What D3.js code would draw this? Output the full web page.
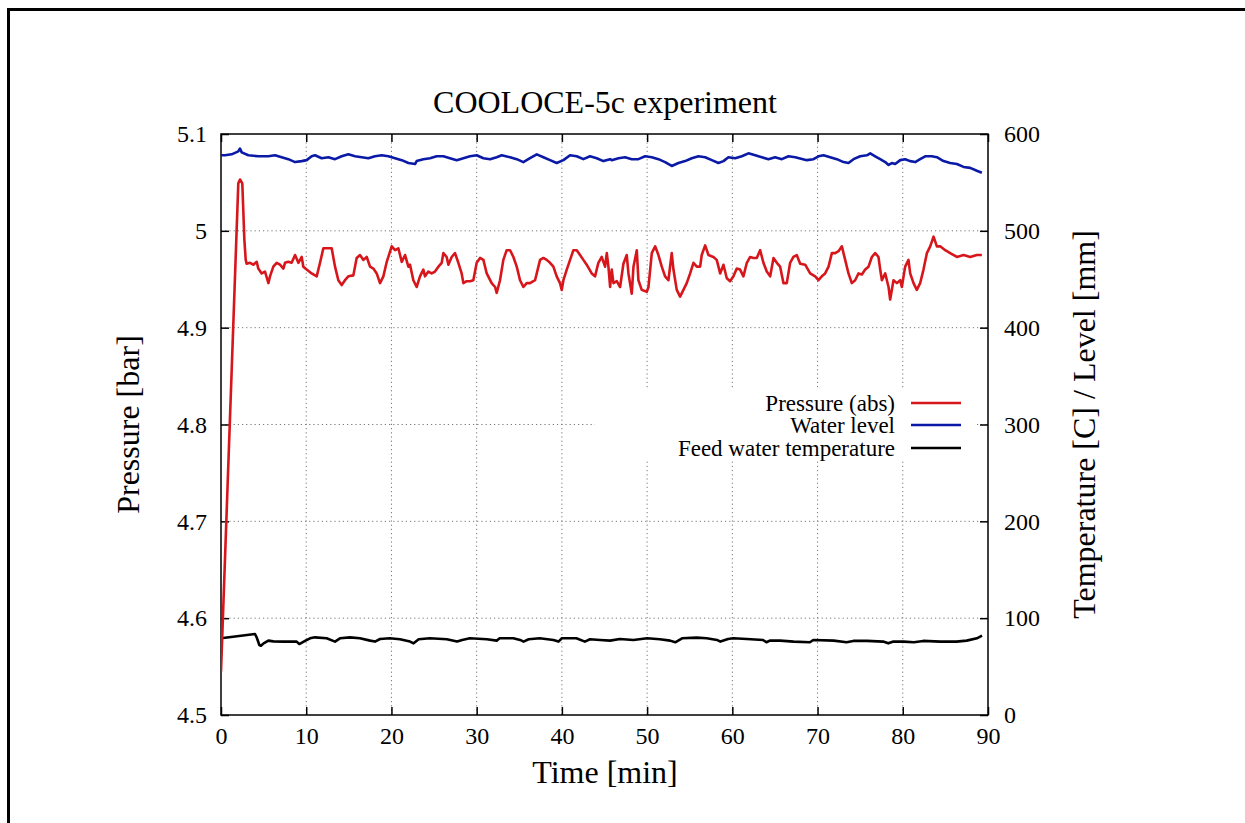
<!DOCTYPE html>
<html>
<head>
<meta charset="utf-8">
<script src="https://cdn.jsdelivr.net/npm/d3@7"></script>
<style>
  html, body { margin: 0; padding: 0; background: #fff; overflow: hidden; }
  svg { display: block; }
  text { font-family: "Liberation Serif", "DejaVu Serif", serif; fill: #000; }
</style>
</head>
<body>
<svg id="chart" width="1245" height="823"></svg>
<script>
// ---------------- data ----------------
const chartTitle = "COOLOCE-5c experiment";
const xLabel = "Time [min]";
const yLeftLabel = "Pressure [bar]";
const yRightLabel = "Temperature [C] / Level [mm]";
const seriesNames = ["Pressure (abs)", "Water level", "Feed water temperature"];

const xTicks = [0, 10, 20, 30, 40, 50, 60, 70, 80, 90];
const yLeftTicks = [4.5, 4.6, 4.7, 4.8, 4.9, 5.0, 5.1];
const yLeftTickLabels = ["4.5", "4.6", "4.7", "4.8", "4.9", "5", "5.1"];
const yRightTicks = [0, 100, 200, 300, 400, 500, 600];

// Pressure (abs) [bar]: time [min], value
const pressureTime = [
  0, 2.03, 2.23, 2.50, 2.74, 2.90, 3.01, 3.40, 3.79, 4.19, 4.38, 4.77, 5.16, 5.56, 5.75, 6.14, 6.53, 6.92, 7.32, 7.51,
  7.90, 8.29, 8.69, 9.08, 9.47, 9.66, 10.05, 10.64, 11.23, 11.62, 12.01, 12.99, 13.38, 13.77, 14.16, 14.55, 14.94, 15.53,
  15.92, 16.31, 16.71, 17.10, 17.49, 17.88, 18.27, 18.66, 19.05, 19.45, 20.03, 20.42, 20.81, 21.21, 21.60, 21.99,
  22.18, 22.57, 22.96, 23.35, 23.74, 23.94, 24.33, 24.72, 25.11, 25.51, 25.90, 26.09, 26.48, 26.68, 27.07, 27.46, 27.85,
  28.24, 28.44, 28.83, 29.22, 29.61, 30.00, 30.40, 30.79, 31.18, 31.76, 32.16, 32.35, 32.74, 33.13, 33.52, 33.92, 34.31,
  34.70, 35.09, 35.48, 35.87, 36.26, 36.85, 37.44, 37.83, 38.22, 38.61, 39.00, 39.39, 39.78, 39.98, 40.18, 40.57, 40.96,
  41.35, 41.74, 42.13, 42.52, 42.91, 43.50, 43.89, 44.28, 44.67, 45.07, 45.27, 45.46, 45.66, 45.85, 46.05, 46.44, 46.83,
  47.22, 47.61, 47.81, 48.20, 48.40, 48.79, 48.98, 49.37, 49.96, 50.16, 50.55, 50.94, 51.33, 51.72, 52.11, 52.50, 52.89,
  53.09, 53.48, 53.87, 54.26, 54.65, 55.05, 55.44, 55.83, 56.22, 56.41, 56.81, 57.20, 57.78, 58.17, 58.57, 58.96, 59.35,
  59.74, 60.13, 60.52, 60.91, 61.30, 61.70, 62.09, 62.48, 62.87, 63.26, 63.65, 64.04, 64.44, 64.83, 65.22, 65.61, 66.00,
  66.39, 66.78, 67.17, 67.56, 67.96, 68.55, 69.13, 69.72, 70.11, 70.50, 70.89, 71.29, 71.68, 72.07, 72.46, 72.85, 73.24,
  73.63, 74.02, 74.41, 74.81, 75.20, 75.59, 75.98, 76.37, 76.76, 77.15, 77.35, 77.55, 77.94, 78.33, 78.52, 78.91, 79.31,
  79.70, 79.89, 80.28, 80.67, 80.87, 81.26, 81.65, 82.04, 82.43, 82.83, 83.22, 83.61, 84.00, 84.39, 84.98, 85.56, 86.35,
  87.13, 87.91, 88.69, 89.28
];
const pressureValue = [
  4.545, 5.049, 5.053, 5.049, 4.991, 4.970, 4.966, 4.967, 4.965, 4.968, 4.961, 4.956, 4.958, 4.946, 4.953, 4.963, 4.967, 4.965, 4.961, 4.967,
  4.968, 4.967, 4.975, 4.967, 4.973, 4.963, 4.960, 4.956, 4.953, 4.967, 4.982, 4.982, 4.963, 4.949, 4.944, 4.949, 4.953, 4.954,
  4.972, 4.975, 4.970, 4.973, 4.963, 4.961, 4.956, 4.946, 4.953, 4.968, 4.984, 4.980, 4.982, 4.968, 4.975, 4.963,
  4.965, 4.949, 4.942, 4.953, 4.960, 4.953, 4.958, 4.956, 4.958, 4.963, 4.967, 4.977, 4.973, 4.965, 4.973, 4.977, 4.967,
  4.956, 4.946, 4.948, 4.948, 4.949, 4.967, 4.972, 4.970, 4.956, 4.946, 4.942, 4.936, 4.949, 4.970, 4.980, 4.980, 4.973,
  4.963, 4.949, 4.942, 4.946, 4.946, 4.949, 4.970, 4.972, 4.970, 4.967, 4.963, 4.953, 4.946, 4.939, 4.949, 4.960, 4.970,
  4.980, 4.980, 4.975, 4.970, 4.965, 4.956, 4.953, 4.967, 4.973, 4.963, 4.977, 4.963, 4.942, 4.960, 4.946, 4.948, 4.942,
  4.966, 4.975, 4.956, 4.935, 4.963, 4.980, 4.949, 4.939, 4.937, 4.942, 4.977, 4.984, 4.975, 4.963, 4.953, 4.949, 4.977,
  4.960, 4.939, 4.932, 4.939, 4.946, 4.956, 4.967, 4.963, 4.963, 4.975, 4.985, 4.975, 4.973, 4.970, 4.956, 4.965, 4.951,
  4.948, 4.953, 4.961, 4.960, 4.953, 4.967, 4.973, 4.972, 4.972, 4.980, 4.967, 4.958, 4.953, 4.972, 4.967, 4.963, 4.946,
  4.946, 4.967, 4.973, 4.975, 4.966, 4.965, 4.956, 4.953, 4.949, 4.953, 4.956, 4.963, 4.977, 4.977, 4.979, 4.984, 4.970,
  4.956, 4.946, 4.949, 4.956, 4.955, 4.960, 4.963, 4.973, 4.977, 4.973, 4.960, 4.949, 4.956, 4.942, 4.929, 4.949, 4.946,
  4.949, 4.942, 4.963, 4.970, 4.956, 4.946, 4.939, 4.946, 4.960, 4.977, 4.984, 4.994, 4.984, 4.984, 4.980, 4.977, 4.973,
  4.975, 4.973, 4.975, 4.975
];

// Water level [mm]: time [min], value
const levelTime = [
  0, 0.47, 1.25, 2.03, 2.23, 2.43, 3.21, 4.38, 5.56, 6.34, 7.12, 7.90, 8.69, 9.47, 10.05, 10.64, 11.03, 11.81, 12.60,
  13.38, 14.16, 14.94, 15.73, 16.51, 17.29, 18.07, 18.86, 19.64, 20.42, 21.21, 21.99, 22.77,
  22.96, 23.74, 24.52, 25.31, 26.09, 26.87, 27.66, 28.44, 29.22, 30.00, 30.79, 31.57, 32.35, 32.94, 33.92, 34.70, 35.48,
  36.26, 37.05, 37.83, 38.61, 39.39, 40.18, 40.96, 41.74, 42.52, 43.30, 44.09, 44.87, 45.65,
  45.85, 46.64, 47.42, 48.20, 48.98, 49.77, 50.55, 51.33, 52.11, 52.89, 53.68, 54.46, 55.24, 56.03, 56.81, 57.59, 58.37,
  58.96, 59.54, 60.33, 61.11, 61.89, 62.68, 63.46, 64.24, 65.02, 65.81, 66.59, 67.38,
  68.74, 69.52, 70.11, 70.70, 71.48, 72.26, 73.05, 73.63, 74.22, 75.00, 75.79, 76.18, 76.76, 77.35, 77.94, 78.33, 78.72,
  79.11, 79.70, 80.28, 80.87, 81.46, 82.04, 82.63, 83.41, 84.00, 84.78, 85.56, 86.35, 87.13, 87.91, 88.69, 89.28
];
const levelValue = [
  578, 578, 579, 582, 585, 581, 578, 577, 577, 578, 576, 574, 571, 572, 573, 577, 578, 575, 576, 574, 577, 579,
  577, 576, 575, 577, 578, 577, 575, 573, 570, 569,
  572, 574, 575, 577, 577, 575, 573, 575, 577, 578, 575, 574, 576, 578, 576, 574, 571, 575, 579, 576, 573, 570, 573,
  578, 577, 574, 577, 575, 572, 574,
  573, 575, 576, 574, 574, 577, 576, 574, 571, 567, 570, 572, 575, 577, 576, 573, 570, 572, 576, 575, 577, 580, 578,
  576, 574, 576, 574, 577, 576,
  573, 574, 577, 578, 576, 574, 571, 570, 574, 577, 578, 580, 577, 574, 571, 568, 570, 569, 573, 574, 572, 571, 574,
  577, 577, 576, 572, 570, 569, 566, 565, 562, 560
];

// Feed water temperature [C]: time [min], value
const tempTime = [
  0, 3.99, 4.19, 4.50, 4.69, 5.00, 5.56, 6.14, 7.30, 8.88, 9.19, 9.86, 10.45, 11.03, 12.40, 13.38, 13.96, 15.14, 16.30,
  17.50, 18.07, 18.66, 19.80, 21.00, 22.18, 22.60, 23.20, 24.50, 26.50, 27.70, 28.30, 29.20, 31.20, 32.35, 32.70, 34.30,
  35.10, 35.50, 36.10, 37.40, 39.00, 39.60, 40.00, 41.70, 42.70, 43.30, 44.48, 45.65, 46.80, 48.40, 50.00, 51.50, 52.70,
  53.30, 54.10, 55.80, 57.00, 58.20, 58.60, 59.50, 60.10, 61.70, 63.60, 64.00, 64.40, 65.60, 67.20, 69.10, 69.50, 71.90,
  73.40, 74.20, 75.80, 77.70, 78.30, 78.90, 80.10, 81.30, 82.40, 84.40, 86.30, 87.50, 88.70, 89.30
];
const tempValue = [
  79.2, 83.7, 80.0, 72.3, 71.5, 74.0, 76.8, 76.0, 75.8, 75.8, 73.3, 76.5, 79.2, 80.2, 79.2, 75.8, 79.2, 80.2, 79.2,
  76.8, 75.8, 78.5, 79.2, 78.2, 75.8, 74.0, 78.2, 79.2, 78.2, 75.8, 77.5, 79.2, 78.2, 76.8, 79.2, 79.2,
  77.5, 75.8, 78.2, 79.2, 77.5, 75.8, 79.2, 79.2, 75.8, 78.2, 77.5, 76.8, 78.5, 77.5, 79.2, 78.2, 76.8,
  75.1, 79.2, 79.9, 79.2, 77.5, 75.8, 78.5, 79.2, 78.5, 77.5, 75.1, 76.8, 76.8, 75.8, 75.1, 77.5, 76.8,
  75.1, 76.5, 76.5, 75.8, 74.0, 75.8, 75.8, 75.1, 76.5, 75.8, 75.8, 76.8, 79.2, 82.0
];

// ---------------- chart ----------------
const W = 1245, H = 823;
const plot = { left: 221, right: 988, top: 134, bottom: 715 };
const svg = d3.select("#chart");

const x = d3.scaleLinear().domain([0, 90]).range([plot.left, plot.right]);
const yL = d3.scaleLinear().domain([4.5, 5.1]).range([plot.bottom, plot.top]);
const yR = d3.scaleLinear().domain([0, 600]).range([plot.bottom, plot.top]);

// page border (left and top edges only)
svg.append("line").attr("x1", 8.5).attr("x2", 8.5).attr("y1", 8).attr("y2", H)
  .attr("stroke", "#000").attr("stroke-width", 3);
svg.append("line").attr("x1", 7).attr("x2", W).attr("y1", 9.5).attr("y2", 9.5)
  .attr("stroke", "#000").attr("stroke-width", 3);

// grid
const grid = svg.append("g").attr("stroke", "#777").attr("stroke-width", 1).attr("stroke-dasharray", "1.2,3");
grid.selectAll("line.gx").data(xTicks.slice(1, -1)).join("line")
  .attr("x1", d => x(d)).attr("x2", d => x(d)).attr("y1", plot.top).attr("y2", plot.bottom);
grid.selectAll("line.gy").data(yLeftTicks.slice(1, -1)).join("line")
  .attr("x1", plot.left).attr("x2", plot.right).attr("y1", d => yL(d)).attr("y2", d => yL(d));

// legend background (opaque key box)
svg.append("rect").attr("x", 595).attr("y", 389).attr("width", 380).attr("height", 72).attr("fill", "#fff");

// axes with inward ticks
const tickFont = 24;
const axL = svg.append("g").attr("transform", `translate(${plot.left},0)`)
  .call(d3.axisLeft(yL).tickValues(yLeftTicks).tickFormat((d, i) => yLeftTickLabels[i]).tickSizeInner(-8).tickSizeOuter(0).tickPadding(14));
const axR = svg.append("g").attr("transform", `translate(${plot.right},0)`)
  .call(d3.axisRight(yR).tickValues(yRightTicks).tickFormat(d3.format("d")).tickSizeInner(-8).tickSizeOuter(0).tickPadding(16));
const axB = svg.append("g").attr("transform", `translate(0,${plot.bottom})`)
  .call(d3.axisBottom(x).tickValues(xTicks).tickFormat(d3.format("d")).tickSizeInner(-8).tickSizeOuter(0).tickPadding(12));
const axT = svg.append("g").attr("transform", `translate(0,${plot.top})`)
  .call(d3.axisTop(x).tickValues(xTicks).tickFormat("").tickSizeInner(-8).tickSizeOuter(0));
[axL, axR, axB, axT].forEach(a => {
  a.select(".domain").remove();
  a.selectAll(".tick line").attr("stroke", "#000").attr("stroke-width", 1.5);
  a.selectAll(".tick text").style("font-family", '"Liberation Serif", serif').style("font-size", tickFont + "px").attr("fill", "#000");
});

// frame
svg.append("rect").attr("x", plot.left).attr("y", plot.top)
  .attr("width", plot.right - plot.left).attr("height", plot.bottom - plot.top)
  .attr("fill", "none").attr("stroke", "#000").attr("stroke-width", 1.5);

// data lines
svg.append("clipPath").attr("id", "clip").append("rect")
  .attr("x", plot.left).attr("y", plot.top).attr("width", plot.right - plot.left).attr("height", plot.bottom - plot.top);
const lines = svg.append("g").attr("clip-path", "url(#clip)");

const pressureData = pressureTime.map((t, i) => [t, pressureValue[i]]);
const levelData = levelTime.map((t, i) => [t, levelValue[i]]);
const tempData = tempTime.map((t, i) => [t, tempValue[i]]);

const colors = ["#d7161c", "#0a1aa6", "#000000"];

lines.append("path").datum(tempData)
  .attr("d", d3.line().x(d => x(d[0])).y(d => yR(d[1])))
  .attr("fill", "none").attr("stroke", colors[2]).attr("stroke-width", 2.6).attr("stroke-linejoin", "round");
lines.append("path").datum(levelData)
  .attr("d", d3.line().x(d => x(d[0])).y(d => yR(d[1])))
  .attr("fill", "none").attr("stroke", colors[1]).attr("stroke-width", 2.6).attr("stroke-linejoin", "round");
lines.append("path").datum(pressureData)
  .attr("d", d3.line().x(d => x(d[0])).y(d => yL(d[1])))
  .attr("fill", "none").attr("stroke", colors[0]).attr("stroke-width", 2.6).attr("stroke-linejoin", "round");

// legend
const legendRows = [403, 425, 448];
const leg = svg.append("g");
seriesNames.forEach((name, i) => {
  leg.append("text").attr("x", 895).attr("y", legendRows[i]).attr("dy", "0.33em")
    .attr("text-anchor", "end").style("font-size", "23px").text(name);
  leg.append("line").attr("x1", 911).attr("x2", 961).attr("y1", legendRows[i]).attr("y2", legendRows[i])
    .attr("stroke", colors[i]).attr("stroke-width", 2.6);
});

// titles
svg.append("text").attr("x", 605).attr("y", 113).attr("text-anchor", "middle")
  .style("font-size", "32px").text(chartTitle);
svg.append("text").attr("x", 605).attr("y", 783).attr("text-anchor", "middle")
  .style("font-size", "32px").text(xLabel);
svg.append("text").attr("transform", `translate(139,${(plot.top + plot.bottom) / 2}) rotate(-90)`)
  .attr("text-anchor", "middle").style("font-size", "32px").text(yLeftLabel);
svg.append("text").attr("transform", `translate(1095,${(plot.top + plot.bottom) / 2}) rotate(-90)`)
  .attr("text-anchor", "middle").style("font-size", "32px").text(yRightLabel);
</script>
</body>
</html>
